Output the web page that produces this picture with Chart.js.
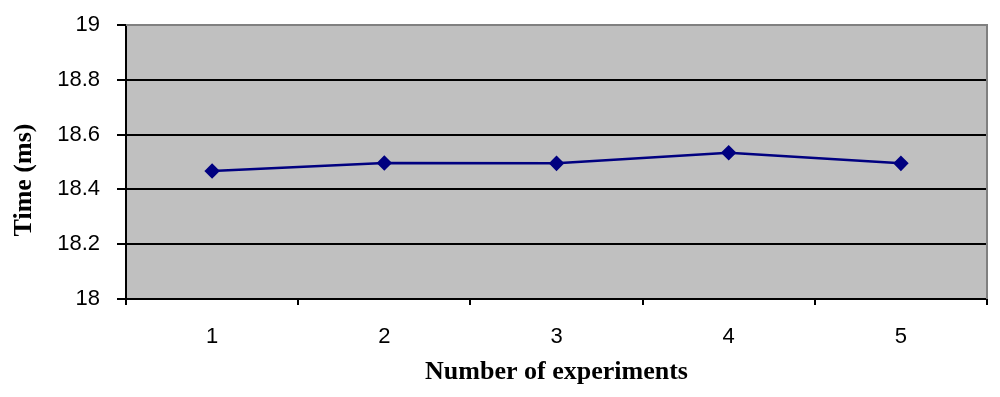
<!DOCTYPE html>
<html>
<head>
<meta charset="utf-8">
<script src="https://cdn.jsdelivr.net/npm/chart.js@4/dist/chart.umd.min.js"></script>
<style>
  html, body { margin: 0; padding: 0; background: #fff; }
  #wrap { width: 1000px; height: 397px; }
</style>
</head>
<body>
<div id="wrap"><canvas id="c" width="1000" height="397"></canvas></div>
<script>
// data
const experiments = ['1', '2', '3', '4', '5'];
const timeMs = [18.467, 18.496, 18.495, 18.534, 18.495];
const yTicks = [18, 18.2, 18.4, 18.6, 18.8, 19];

// grey plot background + grey top/right border
const plotBg = {
  id: 'plotBg',
  beforeDraw(chart) {
    const { ctx, chartArea: a } = chart;
    ctx.save();
    ctx.fillStyle = '#c0c0c0';
    ctx.fillRect(a.left, a.top, a.right - a.left, a.bottom - a.top);
    ctx.restore();
  },
  afterDatasetsDraw(chart) {
    const { ctx, chartArea: a } = chart;
    ctx.save();
    ctx.strokeStyle = '#808080';
    ctx.lineWidth = 2;
    ctx.beginPath();
    ctx.moveTo(a.left, a.top);
    ctx.lineTo(a.right, a.top);
    ctx.lineTo(a.right, a.bottom);
    ctx.stroke();
    ctx.restore();
  }
};

// y axis title, placed where the original has it
const yTitle = {
  id: 'yTitle',
  afterDraw(chart) {
    const ctx = chart.ctx;
    ctx.save();
    ctx.translate(24, 180);
    ctx.rotate(-Math.PI / 2);
    ctx.font = 'bold 26px "Liberation Serif", "Times New Roman", serif';
    ctx.fillStyle = '#000';
    ctx.textAlign = 'center';
    ctx.textBaseline = 'middle';
    ctx.fillText('Time (ms)', 0, 0);
    ctx.restore();
  }
};

new Chart(document.getElementById('c'), {
  type: 'line',
  data: {
    labels: experiments,
    datasets: [{
      label: 'Time',
      data: timeMs,
      borderColor: '#000080',
      backgroundColor: '#000080',
      borderWidth: 2.5,
      pointStyle: 'rectRot',
      pointRadius: 6,
      pointHoverRadius: 6,
      tension: 0
    }]
  },
  options: {
    responsive: false,
    animation: false,
    layout: { padding: { top: 25, right: 13, left: 0, bottom: 0 } },
    plugins: { legend: { display: false }, tooltip: { enabled: false } },
    scales: {
      x: {
        offset: true,
        grid: { offset: true, drawOnChartArea: false, color: '#000', lineWidth: 2, tickLength: 6 },
        border: { color: '#000', width: 2 },
        ticks: { color: '#000', padding: 19, font: { family: '"Liberation Sans", Arial, sans-serif', size: 22 } },
        title: {
          display: true,
          text: 'Number of experiments',
          color: '#000',
          padding: { top: 0, bottom: 9 },
          font: { family: '"Liberation Serif", "Times New Roman", serif', size: 26, weight: 'bold' }
        },
        afterFit(s) { s.height = 98; s.paddingLeft = 0; s.paddingRight = 0; }
      },
      y: {
        min: 18,
        max: 19,
        afterBuildTicks(s) { s.ticks = yTicks.map(v => ({ value: v })); },
        grid: { color: '#000', lineWidth: 2, tickLength: 9 },
        border: { color: '#000', width: 2 },
        ticks: {
          color: '#000',
          padding: 17,
          font: { family: '"Liberation Sans", Arial, sans-serif', size: 22 },
          callback: v => String(Math.round(v * 10) / 10)
        },
        afterFit(s) { s.width = 126; s.paddingTop = 0; s.paddingBottom = 0; }
      }
    }
  },
  plugins: [plotBg, yTitle]
});
</script>
</body>
</html>
